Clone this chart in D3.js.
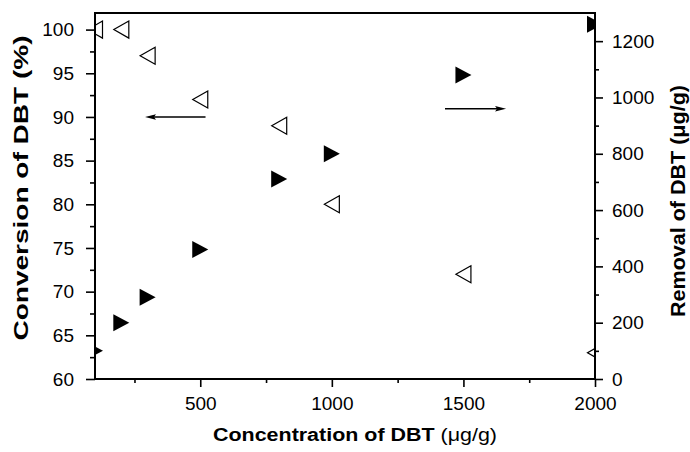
<!DOCTYPE html>
<html>
<head>
<meta charset="utf-8">
<script src="https://cdn.jsdelivr.net/npm/d3@7"></script>
<style>
  body { margin: 0; background: #fff; }
  text { font-family: "Liberation Sans", Arial, sans-serif; }
</style>
</head>
<body>
<div id="box"></div>
<script>
// data
var concentration = [100, 200, 300, 500, 800, 1000, 1500, 2000];
var conversion = [100, 100, 97, 92, 89, 80, 72, 63];      // %, left axis
var removal = [100, 200, 290, 460, 710, 800, 1080, 1260]; // ug/g, right axis

var xTicks = [500, 1000, 1500, 2000];
var xMinor = [250, 750, 1250, 1750];
var leftTicks = [60, 65, 70, 75, 80, 85, 90, 95, 100];
var leftMinor = [62.5, 67.5, 72.5, 77.5, 82.5, 87.5, 92.5, 97.5];
var rightTicks = [0, 200, 400, 600, 800, 1000, 1200];
var rightMinor = [100, 300, 500, 700, 900, 1100];

// arrows pointing to each axis: [x from, x to, y value]
var leftArrow = [520, 290, 90];
var rightArrow = [1430, 1662, 960];

var width = 690;
var height = 452;
// plot box (note: "top" is taken by window.top)
var pL = 95, pR = 595, pT = 13, pB = 379;

var svg = d3.select("#box").append("svg")
  .attr("width", width)
  .attr("height", height);

var x = d3.scaleLinear().domain([100, 2000]).range([pL, pR]);
var yL = d3.scaleLinear().domain([60, 101.9]).range([pB, pT]);
var yR = d3.scaleLinear().domain([0, 1300]).range([pB, pT]);
var fmt = d3.format("d");

// axes with major and minor ticks
function styleAxis(g) {
  g.select(".domain").remove();
  g.selectAll("line").attr("stroke", "#000").attr("stroke-width", 1.6);
  g.selectAll("text").attr("font-size", 19).attr("fill", "#000");
}

svg.append("g")
  .attr("transform", "translate(0," + pB + ")")
  .call(d3.axisBottom(x).tickValues(xTicks).tickSize(8).tickPadding(10).tickFormat(fmt))
  .call(styleAxis);
svg.append("g")
  .attr("transform", "translate(0," + pB + ")")
  .call(d3.axisBottom(x).tickValues(xMinor).tickSize(4).tickFormat(""))
  .call(styleAxis);

svg.append("g")
  .attr("transform", "translate(" + pL + ",0)")
  .call(d3.axisLeft(yL).tickValues(leftTicks).tickSize(9).tickPadding(12).tickFormat(fmt))
  .call(styleAxis);
svg.append("g")
  .attr("transform", "translate(" + pL + ",0)")
  .call(d3.axisLeft(yL).tickValues(leftMinor).tickSize(5).tickFormat(""))
  .call(styleAxis);

svg.append("g")
  .attr("transform", "translate(" + pR + ",0)")
  .call(d3.axisRight(yR).tickValues(rightTicks).tickSize(8).tickPadding(9).tickFormat(fmt))
  .call(styleAxis);
svg.append("g")
  .attr("transform", "translate(" + pR + ",0)")
  .call(d3.axisRight(yR).tickValues(rightMinor).tickSize(4).tickFormat(""))
  .call(styleAxis);

// frame
svg.append("rect")
  .attr("x", pL).attr("y", pT)
  .attr("width", pR - pL).attr("height", pB - pT)
  .attr("fill", "none")
  .attr("stroke", "#000")
  .attr("stroke-width", 2);

svg.append("clipPath").attr("id", "plot")
  .append("rect")
  .attr("x", pL).attr("y", pT)
  .attr("width", pR - pL).attr("height", pB - pT);

var marks = svg.append("g").attr("clip-path", "url(#plot)");

// conversion: open triangles pointing left
marks.selectAll(".conv")
  .data(concentration)
  .enter()
  .append("path")
  .attr("class", "conv")
  .attr("d", "M7.5,-8.5L-7.5,0L7.5,8.5Z")
  .attr("transform", function(d, i) { return "translate(" + x(d) + "," + yL(conversion[i]) + ")"; })
  .attr("fill", "none")
  .attr("stroke", "#000")
  .attr("stroke-width", 1.2);

// removal: filled triangles pointing right
marks.selectAll(".rem")
  .data(concentration)
  .enter()
  .append("path")
  .attr("class", "rem")
  .attr("d", "M-8,-8.5L8,0L-8,8.5Z")
  .attr("transform", function(d, i) { return "translate(" + x(d) + "," + yR(removal[i]) + ")"; })
  .attr("fill", "#000");

// arrows
function arrow(x1, x2, y) {
  var dir = x2 > x1 ? 1 : -1;
  svg.append("line")
    .attr("x1", x1).attr("y1", y)
    .attr("x2", x2 - dir * 6).attr("y2", y)
    .attr("stroke", "#000")
    .attr("stroke-width", 1.6);
  svg.append("path")
    .attr("d", "M" + x2 + "," + y + "L" + (x2 - dir * 11) + "," + (y - 2.8) +
      "L" + (x2 - dir * 9) + "," + y + "L" + (x2 - dir * 11) + "," + (y + 2.8) + "Z")
    .attr("fill", "#000");
}
arrow(x(leftArrow[0]), x(leftArrow[1]), yL(leftArrow[2]));
arrow(x(rightArrow[0]), x(rightArrow[1]), yR(rightArrow[2]));

// axis titles
var xt = svg.append("text")
  .attr("x", 355).attr("y", 441)
  .attr("text-anchor", "middle")
  .attr("font-size", 18)
  .attr("textLength", 284)
  .attr("lengthAdjust", "spacingAndGlyphs");
xt.append("tspan").attr("font-weight", "bold").text("Concentration of DBT ");
xt.append("tspan").text("(\u03bcg/g)");

svg.append("text")
  .attr("transform", "translate(28,188) rotate(-90)")
  .attr("text-anchor", "middle")
  .attr("font-size", 21)
  .attr("font-weight", "bold")
  .attr("textLength", 305)
  .attr("lengthAdjust", "spacingAndGlyphs")
  .text("Conversion of DBT (%)");

svg.append("text")
  .attr("transform", "translate(685,201) rotate(-90)")
  .attr("text-anchor", "middle")
  .attr("font-size", 21)
  .attr("font-weight", "bold")
  .attr("textLength", 232)
  .attr("lengthAdjust", "spacingAndGlyphs")
  .text("Removal of DBT (\u03bcg/g)");
</script>
</body>
</html>
